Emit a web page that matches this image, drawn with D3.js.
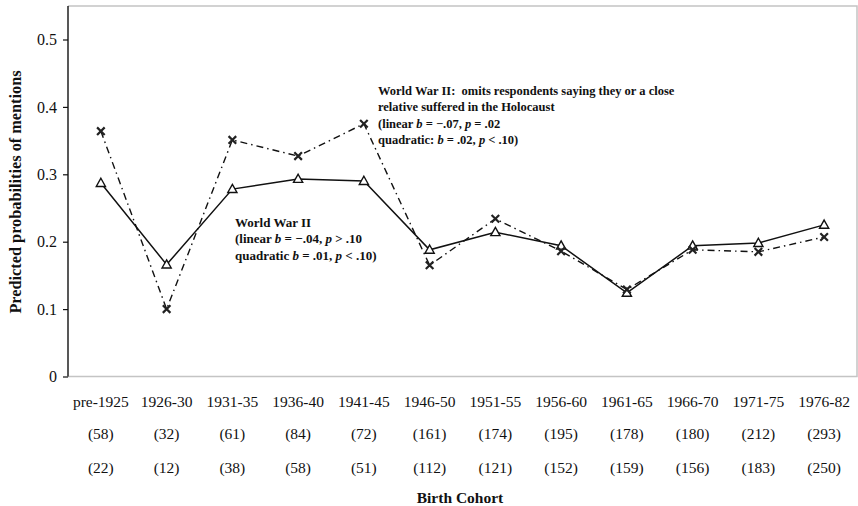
<!DOCTYPE html>
<html>
<head>
<meta charset="utf-8">
<script src="https://cdn.jsdelivr.net/npm/d3@7"></script>
<style>
  html, body { margin: 0; padding: 0; background: #fff; }
  svg { display: block; font-family: "Liberation Serif", "Times New Roman", serif; }
</style>
</head>
<body>
<svg id="chart" width="858" height="506"></svg>
<script>
// Birth cohorts and their sample sizes
const cohorts = ["pre-1925", "1926-30", "1931-35", "1936-40", "1941-45", "1946-50",
                 "1951-55", "1956-60", "1961-65", "1966-70", "1971-75", "1976-82"];
const nAll = ["(58)", "(32)", "(61)", "(84)", "(72)", "(161)",
              "(174)", "(195)", "(178)", "(180)", "(212)", "(293)"];
const nOmit = ["(22)", "(12)", "(38)", "(58)", "(51)", "(112)",
               "(121)", "(152)", "(159)", "(156)", "(183)", "(250)"];

// Predicted probabilities of mentioning World War II
const wwii = [0.287, 0.166, 0.278, 0.293, 0.290, 0.188, 0.214, 0.194, 0.124, 0.194, 0.198, 0.225];
// Same, omitting respondents who (or whose close relative) suffered in the Holocaust
const wwiiOmit = [0.364, 0.100, 0.351, 0.327, 0.375, 0.165, 0.234, 0.186, 0.129, 0.188, 0.185, 0.207];

const yTicks = [0, 0.1, 0.2, 0.3, 0.4, 0.5];

const svg = d3.select("#chart");
const plotL = 68, plotR = 857, plotT = 6, plotB = 376.5;

const x = d3.scaleBand().domain(cohorts).range([plotL, plotR]).paddingInner(0).paddingOuter(0);
const y = d3.scaleLinear().domain([0, 0.5]).range([plotB, plotB - 5 * 67.4]);
const cx = d => x(d) + x.bandwidth() / 2;

// light frame along top, right and bottom
svg.append("path")
  .attr("d", `M${plotL},${plotT}H${plotR}V${plotB}H${plotL}`)
  .attr("fill", "none").attr("stroke", "#c4c4c4").attr("stroke-width", 1.5);

// y axis
const yAxis = svg.append("g")
  .attr("transform", `translate(${plotL},0)`)
  .call(d3.axisLeft(y).tickValues(yTicks).tickSize(5).tickPadding(6)
        .tickFormat(d => d === 0 ? "0" : d3.format(".1f")(d)));
yAxis.select(".domain").remove();
yAxis.selectAll("line").attr("stroke", "#111").attr("stroke-width", 1.2);
yAxis.selectAll("text").attr("font-size", 16).attr("fill", "#111")
  .attr("font-family", "Liberation Serif");
svg.append("line").attr("x1", plotL).attr("x2", plotL).attr("y1", plotT).attr("y2", plotB)
  .attr("stroke", "#111").attr("stroke-width", 1.4);

// y title
svg.append("text")
  .attr("transform", `translate(21,192) rotate(-90)`)
  .attr("text-anchor", "middle").attr("font-size", 16.3).attr("font-weight", "bold")
  .attr("fill", "#111").text("Predicted probabilities of mentions");

// x category labels and two rows of counts
const rows = [[cohorts, 406.5], [nAll, 438.5], [nOmit, 472.5]];
rows.forEach(([labels, yy]) => {
  svg.append("g").selectAll("text").data(labels).join("text")
    .attr("x", (d, i) => cx(cohorts[i]))
    .attr("y", yy)
    .attr("text-anchor", "middle").attr("font-size", 15.5).attr("fill", "#111")
    .text(d => d);
});

svg.append("text").attr("x", 460).attr("y", 502.5).attr("text-anchor", "middle")
  .attr("font-size", 15.5).attr("font-weight", "bold").attr("fill", "#111")
  .text("Birth Cohort");

// lines
const line = d3.line().x((d, i) => cx(cohorts[i])).y(d => y(d));

svg.append("path").datum(wwiiOmit).attr("d", line)
  .attr("fill", "none").attr("stroke", "#111").attr("stroke-width", 1.4)
  .attr("stroke-dasharray", "7,4,1.5,4");

svg.append("path").datum(wwii).attr("d", line)
  .attr("fill", "none").attr("stroke", "#111").attr("stroke-width", 1.5);

// triangle markers
svg.append("g").selectAll("path").data(wwii).join("path")
  .attr("transform", (d, i) => `translate(${cx(cohorts[i])},${y(d)})`)
  .attr("d", "M0,-4.8L4.6,3.4L-4.6,3.4Z")
  .attr("fill", "#fff").attr("stroke", "#111").attr("stroke-width", 1.4);

// cross markers
svg.append("g").selectAll("path").data(wwiiOmit).join("path")
  .attr("transform", (d, i) => `translate(${cx(cohorts[i])},${y(d)})`)
  .attr("d", "M-3.8,-3.8L3.8,3.8M3.8,-3.8L-3.8,3.8")
  .attr("fill", "none").attr("stroke", "#222").attr("stroke-width", 2.2);

// annotations
function note(x0, y0, size, lines) {
  const t = svg.append("text").attr("x", x0).attr("y", y0)
    .attr("font-size", size).attr("font-weight", "bold").attr("fill", "#111");
  lines.forEach((parts, i) => {
    const ts = t.append("tspan").attr("x", x0).attr("dy", i === 0 ? 0 : 16.5);
    parts.forEach(p => {
      ts.append("tspan").attr("font-style", p.i ? "italic" : "normal").text(p.t);
    });
  });
}

note(378, 94.5, 12.5, [
  [{t: "World War II:\u00a0 omits respondents saying they or a close"}],
  [{t: "relative suffered in the Holocaust"}],
  [{t: "(linear "}, {t: "b", i: true}, {t: " = \u2212.07, "}, {t: "p", i: true}, {t: " = .02"}],
  [{t: "quadratic: "}, {t: "b", i: true}, {t: " = .02, "}, {t: "p", i: true}, {t: " < .10)"}]
]);

note(235, 226.5, 13, [
  [{t: "World War II"}],
  [{t: "(linear "}, {t: "b", i: true}, {t: " = \u2212.04, "}, {t: "p", i: true}, {t: " > .10"}],
  [{t: "quadratic "}, {t: "b", i: true}, {t: " = .01, "}, {t: "p", i: true}, {t: " < .10)"}]
]);
</script>
</body>
</html>
